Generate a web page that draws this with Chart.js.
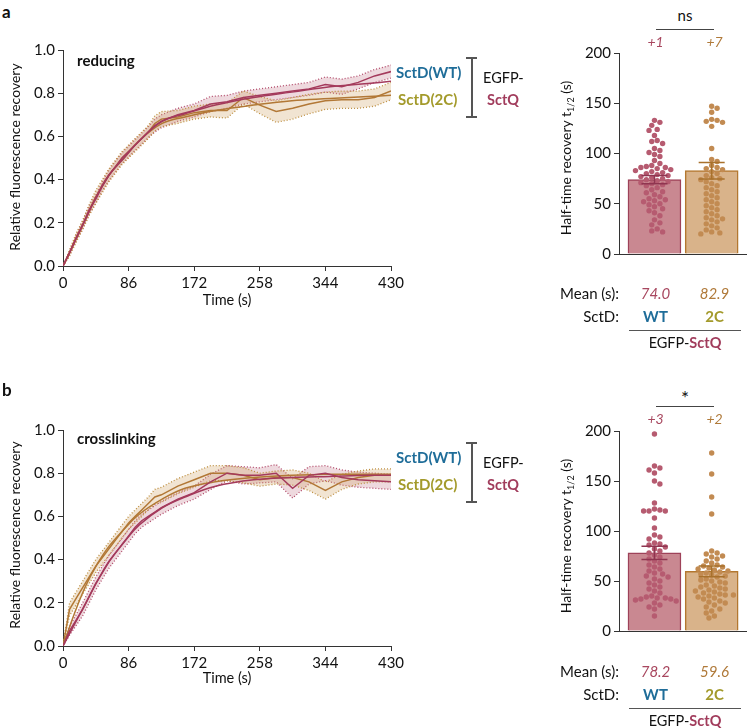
<!DOCTYPE html>
<html>
<head>
<meta charset="utf-8">
<script src="https://cdn.jsdelivr.net/npm/chart.js@4.4.1/dist/chart.umd.min.js"></script>
<style>
  body { margin: 0; width: 750px; height: 728px; position: relative; background: #fff; overflow: hidden;
         font-family: Lato, "Open Sans", sans-serif; color: #111; }
  .box { position: absolute; }
  .t { position: absolute; white-space: nowrap; line-height: 1; }
  .hl { position: absolute; background: #555; }
</style>
</head>
<body>
<div class="box" id="boxLineA" style="left:0;top:38px;width:410px;height:258px"><canvas id="lineA"></canvas></div>
<div class="box" id="boxBarA" style="left:540px;top:41px;width:210px;height:225px"><canvas id="barA"></canvas></div>
<div class="box" id="boxLineB" style="left:0;top:418px;width:410px;height:258px"><canvas id="lineB"></canvas></div>
<div class="box" id="boxBarB" style="left:540px;top:419px;width:210px;height:224px"><canvas id="barB"></canvas></div>
<div id="labels"></div>

<script>
// ---- data ----
const timePts = [0, 8.6, 17.2, 25.8, 34.4, 43, 51.6, 60.2, 68.8, 77.4, 86, 94.6, 103.2, 111.8, 120.4, 129,
                 150.5, 172, 193.5, 215, 236.5, 258, 279.5, 301, 322.5, 344, 365.5, 387, 408.5, 430];
const fitTime = [0, 15, 30, 45, 60, 80, 100, 130, 160, 200, 250, 300, 350, 400, 430];
const xTicks = [0, 86, 172, 258, 344, 430];

// a: reducing
const wtMeanA = [0, 0.06, 0.13, 0.19, 0.26, 0.31, 0.37, 0.42, 0.46, 0.50, 0.53, 0.56, 0.59, 0.62, 0.65, 0.67,
                 0.70, 0.72, 0.75, 0.76, 0.78, 0.79, 0.80, 0.81, 0.82, 0.84, 0.83, 0.85, 0.88, 0.90];
const wtSemA = [0, 0.01, 0.015, 0.02, 0.02, 0.02, 0.02, 0.025, 0.025, 0.025, 0.025, 0.025, 0.025, 0.025, 0.03, 0.03,
                0.03, 0.03, 0.035, 0.03, 0.03, 0.03, 0.03, 0.03, 0.03, 0.035, 0.035, 0.03, 0.03, 0.03];
const c2MeanA = [0, 0.06, 0.13, 0.19, 0.26, 0.32, 0.37, 0.42, 0.46, 0.50, 0.53, 0.56, 0.59, 0.62, 0.66, 0.68,
                 0.69, 0.71, 0.72, 0.72, 0.78, 0.745, 0.715, 0.73, 0.75, 0.765, 0.77, 0.77, 0.78, 0.81];
const c2SemA = [0, 0.015, 0.02, 0.02, 0.025, 0.03, 0.03, 0.03, 0.03, 0.03, 0.03, 0.03, 0.03, 0.03, 0.035, 0.035,
                0.03, 0.03, 0.03, 0.035, 0.03, 0.04, 0.05, 0.05, 0.045, 0.04, 0.04, 0.04, 0.04, 0.04];
const wtFitA = [0, 0.11, 0.22, 0.33, 0.42, 0.50, 0.58, 0.67, 0.705, 0.745, 0.78, 0.805, 0.83, 0.845, 0.855];
const c2FitA = [0, 0.11, 0.22, 0.33, 0.42, 0.50, 0.58, 0.66, 0.69, 0.72, 0.745, 0.765, 0.775, 0.785, 0.79];

// b: crosslinking
const wtMeanB = [0, 0.07, 0.12, 0.17, 0.23, 0.29, 0.34, 0.39, 0.43, 0.47, 0.51, 0.55, 0.58, 0.60, 0.62, 0.64,
                 0.68, 0.71, 0.76, 0.80, 0.79, 0.79, 0.80, 0.73, 0.79, 0.80, 0.78, 0.77, 0.765, 0.76];
const wtSemB = [0, 0.02, 0.025, 0.03, 0.03, 0.03, 0.03, 0.03, 0.03, 0.03, 0.03, 0.03, 0.03, 0.03, 0.03, 0.03,
                0.03, 0.03, 0.035, 0.035, 0.04, 0.035, 0.04, 0.045, 0.04, 0.035, 0.035, 0.035, 0.035, 0.035];
const c2MeanB = [0, 0.17, 0.22, 0.27, 0.32, 0.37, 0.41, 0.45, 0.49, 0.53, 0.57, 0.60, 0.63, 0.66, 0.69, 0.70,
                 0.74, 0.77, 0.80, 0.80, 0.79, 0.77, 0.78, 0.78, 0.76, 0.72, 0.76, 0.78, 0.79, 0.79];
const c2SemB = [0, 0.03, 0.03, 0.03, 0.03, 0.03, 0.03, 0.03, 0.03, 0.03, 0.03, 0.03, 0.03, 0.03, 0.035, 0.035,
                0.035, 0.035, 0.035, 0.035, 0.035, 0.03, 0.03, 0.035, 0.04, 0.04, 0.035, 0.03, 0.03, 0.03];
const wtFitB = [0, 0.10, 0.20, 0.30, 0.39, 0.48, 0.56, 0.64, 0.69, 0.74, 0.77, 0.78, 0.785, 0.79, 0.79];
const c2FitB = [0, 0.15, 0.28, 0.38, 0.46, 0.54, 0.61, 0.68, 0.73, 0.76, 0.78, 0.79, 0.795, 0.795, 0.795];

// half-time bars
const groups = ["WT", "2C"];
const meanHalfA = [74.0, 82.9];
const semHalfA = [4.0, 8.2];
const meanHalfB = [78.2, 59.6];
const semHalfB = [6.6, 5.3];
const offscaleA = ["+1", "+7"];
const offscaleB = ["+3", "+2"];

const dotsWtA = [133, 131, 128, 124, 123, 118, 113, 112, 110, 105, 103, 101, 99, 97, 93, 90, 88, 87, 86, 86, 85, 84,
                 83, 82, 81, 80, 79, 78, 77, 76, 75, 74, 73, 72, 71, 70, 69, 68, 66, 64, 62, 61, 59, 57, 55, 54, 53,
                 52, 50, 49, 47, 45, 43, 41, 38, 34, 31, 29, 25, 23, 22];
const dots2cA = [147, 145, 141, 134, 133, 132, 131, 127, 105, 94, 92, 88, 86, 85, 84, 82, 80, 78, 76, 75, 74, 72,
                 70, 68, 66, 64, 62, 60, 58, 56, 54, 52, 50, 48, 46, 44, 42, 40, 38, 36, 35, 34, 32, 30, 28, 26, 24,
                 22, 21, 20];
const dotsWtB = [197, 165, 163, 161, 158, 150, 147, 128, 122, 121, 120, 120, 120, 113, 103, 96, 94, 92, 88, 87, 86,
                 84, 82, 80, 78, 76, 74, 72, 70, 68, 66, 64, 62, 60, 58, 57, 55, 54, 52, 50, 48, 46, 44, 42, 40, 38,
                 35, 34, 33, 33, 32, 32, 31, 30, 28, 26, 24, 22, 15];
const dots2cB = [178, 157, 134, 117, 80, 78, 77, 75, 74, 72, 70, 68, 66, 65, 64, 63, 62, 61, 60, 59, 58, 57, 56, 55,
                 54, 52, 51, 50, 49, 48, 46, 45, 44, 43, 42, 41, 40, 39, 38, 37, 36, 36, 35, 34, 33, 32, 30, 29, 28,
                 26, 24, 22, 20, 18, 15, 13];

// ---- colours ----
const WT = { line: "#a43a5c", band: "#b24a6a", fill: "rgba(185,95,115,0.24)", bar: "#c98891", barEdge: "#9e4259",
             dot: "#b65b70", err: "#8f3550", text: "#a8475f" };
const C2 = { line: "#b27836", band: "#bd8f40", fill: "rgba(210,165,105,0.30)", bar: "#d9b38a", barEdge: "#b3772f",
             dot: "#c28b52", err: "#a8712c", text: "#b07a3a" };
const BLUE = "#1f6d99", OLIVE = "#a39a2b", SCTQ = "#a13c5c";

Chart.defaults.font.family = 'Lato, "Open Sans", sans-serif';
Chart.defaults.font.size = 15;
Chart.defaults.color = "#111";
Chart.defaults.animation = false;

const pts = (xs, ys) => xs.map((x, i) => ({ x, y: ys[i] }));

function bandSets(mean, sem, c, order) {
  const lo = mean.map((m, i) => Math.max(0, m - sem[i]));
  const hi = mean.map((m, i) => m + sem[i]);
  return [
    { data: pts(timePts, lo), borderColor: c.band, borderWidth: 1.3, borderDash: [1, 2], pointRadius: 0, fill: false, order },
    { data: pts(timePts, hi), borderColor: c.band, borderWidth: 1.3, borderDash: [1, 2], pointRadius: 0, fill: "-1",
      backgroundColor: c.fill, order },
  ];
}

function lineChart(id, wtMean, wtSem, c2Mean, c2Sem, wtFit, c2Fit) {
  const datasets = [
    ...bandSets(wtMean, wtSem, WT, 4),
    ...bandSets(c2Mean, c2Sem, C2, 3),
    { data: pts(timePts, c2Mean), borderColor: C2.line, borderWidth: 1.5, pointRadius: 0, fill: false, order: 2 },
    { data: pts(fitTime, c2Fit), borderColor: C2.line, borderWidth: 1.5, pointRadius: 0, fill: false, tension: 0.4, order: 2 },
    { data: pts(timePts, wtMean), borderColor: WT.line, borderWidth: 1.5, pointRadius: 0, fill: false, order: 1 },
    { data: pts(fitTime, wtFit), borderColor: WT.line, borderWidth: 1.5, pointRadius: 0, fill: false, tension: 0.4, order: 1 },
  ];
  return new Chart(document.getElementById(id), {
    type: "line",
    data: { datasets },
    options: {
      responsive: true, maintainAspectRatio: false,
      layout: { padding: { top: 10, right: 19, left: 0, bottom: 0 } },
      plugins: { legend: { display: false }, tooltip: { enabled: false } },
      scales: {
        x: {
          type: "linear", min: 0, max: 430,
          afterBuildTicks: (s) => { s.ticks = xTicks.map((v) => ({ value: v })); },
          afterFit: (s) => { s.height = 30; },
          ticks: { padding: 3 },
          grid: { drawOnChartArea: false, tickLength: 5, color: "#333" },
          border: { color: "#333" },
        },
        y: {
          min: 0, max: 1,
          afterFit: (s) => { s.width = 63; },
          ticks: { stepSize: 0.2, padding: 3, callback: (v) => v.toFixed(1) },
          grid: { drawOnChartArea: false, tickLength: 5, color: "#333" },
          border: { color: "#333" },
        },
      },
    },
  });
}

// beeswarm offsets worked out from the values (pixel scale of the bar panels)
const PX_Y = 214 / 200, PX_X = 59, DIAM = 5.6, STEP = 2.8;
function swarm(values, center) {
  const placed = [];
  return values.map((v) => {
    const py = v * PX_Y;
    let k = 0, off = 0;
    for (;;) {
      off = (k % 2 ? 1 : -1) * Math.ceil(k / 2) * STEP;
      if (!placed.some((p) => Math.hypot(p.ox - off, p.py - py) < DIAM)) break;
      k++;
    }
    placed.push({ ox: off, py });
    return { x: center + off / PX_X, y: v };
  });
}

const errorBars = {
  id: "errorBars",
  afterDatasetsDraw(chart, args, opts) {
    if (!opts.means) return;
    const { ctx } = chart, x = chart.scales.x, y = chart.scales.y;
    opts.means.forEach((m, i) => {
      const px = x.getPixelForValue(i);
      const top = y.getPixelForValue(m + opts.sem[i]);
      const bot = y.getPixelForValue(m - opts.sem[i]);
      ctx.save();
      ctx.strokeStyle = opts.colors[i];
      ctx.lineWidth = 1.5;
      ctx.beginPath();
      ctx.moveTo(px, top); ctx.lineTo(px, bot);
      ctx.moveTo(px - 13, top); ctx.lineTo(px + 13, top);
      ctx.moveTo(px - 13, bot); ctx.lineTo(px + 13, bot);
      ctx.stroke();
      ctx.restore();
    });
  },
};

function barChart(id, means, sem, dotsWt, dots2c) {
  return new Chart(document.getElementById(id), {
    type: "bar",
    data: {
      datasets: [
        { type: "scatter", data: swarm(dotsWt, 0), backgroundColor: WT.dot, pointRadius: 2.7, pointBorderWidth: 0, order: 1 },
        { type: "scatter", data: swarm(dots2c, 1), backgroundColor: C2.dot, pointRadius: 2.7, pointBorderWidth: 0, order: 1 },
        { type: "bar", data: means.map((m, i) => ({ x: i, y: m })), barThickness: 53,
          backgroundColor: [WT.bar, C2.bar], borderColor: [WT.barEdge, C2.barEdge], borderWidth: 1.5, order: 2 },
      ],
    },
    options: {
      responsive: true, maintainAspectRatio: false,
      layout: { padding: { top: 10, right: 0, left: 0, bottom: 0 } },
      plugins: { legend: { display: false }, tooltip: { enabled: false },
                 errorBars: { means, sem, colors: [WT.err, C2.err] } },
      scales: {
        x: {
          type: "linear", min: -0.62, max: 1.6, offset: false,
          afterFit: (s) => { s.height = 1; },
          ticks: { display: false },
          grid: { display: false },
          border: { color: "#333" },
        },
        y: {
          min: 0, max: 200,
          afterFit: (s) => { s.width = 79; },
          ticks: { stepSize: 50, padding: 3 },
          grid: { drawOnChartArea: false, tickLength: 5, color: "#333" },
          border: { color: "#333" },
        },
      },
    },
    plugins: [errorBars],
  });
}

lineChart("lineA", wtMeanA, wtSemA, c2MeanA, c2SemA, wtFitA, c2FitA);
lineChart("lineB", wtMeanB, wtSemB, c2MeanB, c2SemB, wtFitB, c2FitB);
barChart("barA", meanHalfA, semHalfA, dotsWtA, dots2cA);
barChart("barB", meanHalfB, semHalfB, dotsWtB, dots2cB);

// ---- text and annotation around the charts ----
const holder = document.getElementById("labels");
function label(x, y, html, style, anchor) {
  const d = document.createElement("div");
  d.className = "t";
  d.innerHTML = html;
  d.style.cssText = `left:${x}px;top:${y}px;${style || ""}`;
  const tx = anchor === "left" ? "0" : anchor === "right" ? "-100%" : "-50%";
  d.style.transform = `translate(${tx},-50%)`;
  holder.appendChild(d);
  return d;
}
function vlabel(x, y, html, size) {
  const d = label(x, y, html, `font-size:${size}px`);
  d.style.transform = "translate(-50%,-50%) rotate(-90deg)";
}
function hline(x1, x2, y, color, w) {
  const d = document.createElement("div");
  d.className = "hl";
  d.style.cssText = `left:${x1}px;top:${y}px;width:${x2 - x1}px;height:${w || 1}px;background:${color || "#555"}`;
  holder.appendChild(d);
}
function vline(x, y1, y2, color, w) {
  const d = document.createElement("div");
  d.className = "hl";
  d.style.cssText = `left:${x}px;top:${y1}px;width:${w || 1}px;height:${y2 - y1}px;background:${color || "#555"}`;
  holder.appendChild(d);
}

function panel(dy, letter, cond, meanTxt, offTxt, sig, legendTop) {
  label(2, dy + 11, letter, "font-size:17px;font-weight:700", "left");
  label(77, dy + 60, cond, "font-size:15px;font-weight:700", "left");
  vlabel(15, dy + 157, "Relative fluorescence recovery", 14);
  label(227, dy + 300, "Time (s)", "font-size:14.5px");

  // legend with bracket
  label(396, legendTop + 15, "SctD(WT)", `font-size:15px;font-weight:700;color:${BLUE}`, "left");
  label(398, legendTop + 42, "SctD(2C)", `font-size:15px;font-weight:700;color:${OLIVE}`, "left");
  vline(471, legendTop, legendTop + 60, "#555", 1.5);
  hline(466, 477, legendTop, "#555", 1.5);
  hline(466, 477, legendTop + 59, "#555", 1.5);
  label(483, legendTop + 21, "EGFP-", "font-size:14.5px", "left");
  label(487, legendTop + 43, "SctQ", `font-size:14.5px;font-weight:700;color:${SCTQ}`, "left");

  // bar panel text
  vlabel(567, dy + 158, "Half-time recovery t<sub style='font-size:9px'>1/2</sub> (s)", 14);
  label(685, dy + sig.y, sig.txt, `font-size:${sig.size}px`);
  hline(656, 714, dy + sig.line, "#444", 1.3);
  label(655.5, dy + sig.line + 13, offTxt[0], `font-size:14px;font-style:italic;color:${WT.text}`);
  label(714.5, dy + sig.line + 13, offTxt[1], `font-size:14px;font-style:italic;color:${C2.text}`);

  label(619, dy + 293, "Mean (s):", "font-size:15px", "right");
  label(655.5, dy + 293, meanTxt[0], `font-size:15px;font-style:italic;color:${WT.text}`);
  label(714.5, dy + 293, meanTxt[1], `font-size:15px;font-style:italic;color:${C2.text}`);
  label(619, dy + 316, "SctD:", "font-size:15px", "right");
  label(655.5, dy + 316, groups[0], `font-size:15px;font-weight:700;color:${BLUE}`);
  label(714.5, dy + 316, groups[1], `font-size:15px;font-weight:700;color:${OLIVE}`);
  hline(629, 741, dy + 330, "#555", 1);
  label(685, dy + 343, `EGFP-<b style="color:${SCTQ}">SctQ</b>`, "font-size:14.5px");
}

panel(0, "a", "reducing", meanHalfA.map((m) => m.toFixed(1)), offscaleA, { txt: "ns", y: 15, line: 29, size: 15 }, 57);
panel(378, "b", "crosslinking", meanHalfB.map((m) => m.toFixed(1)), offscaleB, { txt: "*", y: 19, line: 28, size: 19 }, 442);
</script>
</body>
</html>
